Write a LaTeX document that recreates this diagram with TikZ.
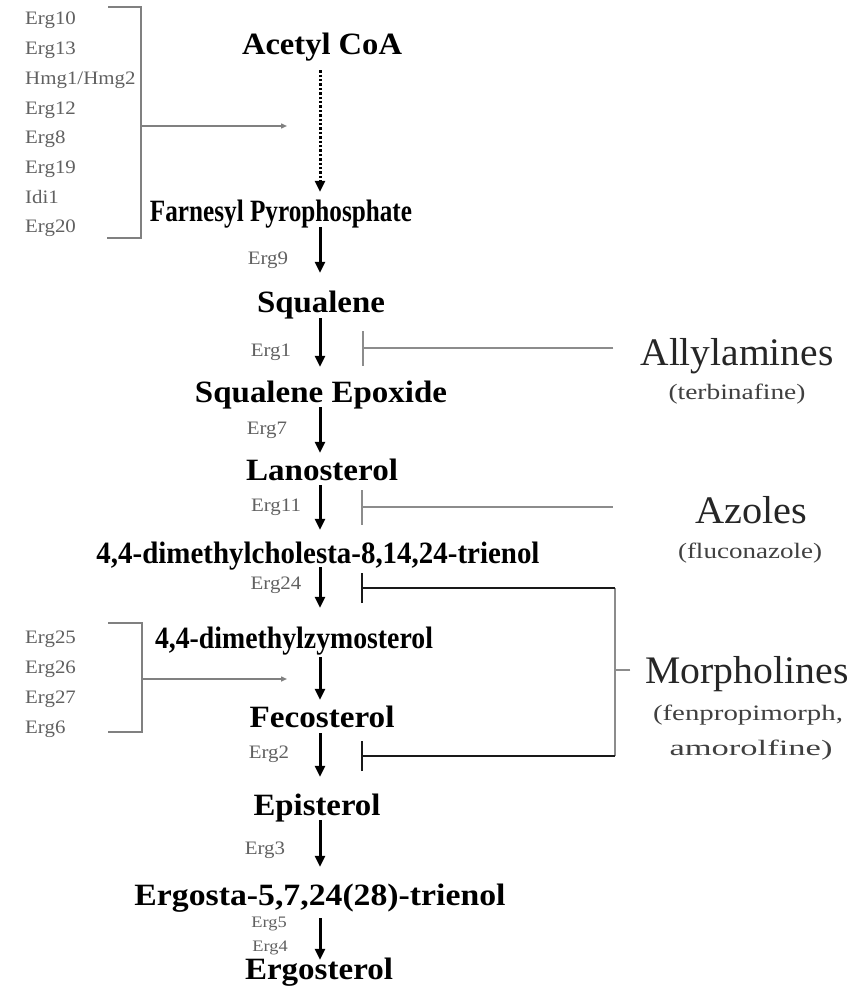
\documentclass[tikz,border=0pt]{standalone}
\usepackage{fontspec}
\setmainfont{Liberation Serif}
\usetikzlibrary{arrows.meta}
\newcommand\ML[2]{\resizebox{#1}{\height}{\fontsize{31}{31}\selectfont\bfseries #2}}
\newcommand\RL[2]{\resizebox{#1}{\height}{\fontsize{39}{39}\selectfont #2}}
\newcommand\SL[2]{\resizebox{#1}{\height}{\fontsize{22}{22}\selectfont #2}}
\newcommand\EL[1]{\scalebox{1.1}[1]{\fontsize{19}{19}\selectfont #1}}
\newcommand\ES[1]{\scalebox{1.15}[1]{\fontsize{16}{16}\selectfont #1}}
\begin{document}
\begin{tikzpicture}[x=1pt,y=-1pt,
  mainlbl/.style={anchor=base, inner sep=0pt, text height=21pt, text depth=7pt},
  lbl/.style={anchor=base, inner sep=0pt},
  erglbl/.style={anchor=base, inner sep=0pt, text=black!62},
  listlbl/.style={anchor=base west, inner sep=0pt, text=black!62},
  drug/.style={anchor=base, inner sep=0pt, text=black!85},
  sub/.style={anchor=base, inner sep=0pt, text=black!75},
  mainarrow/.style={line width=3pt, -{Triangle[length=11pt,width=10pt]}},
  dotarrow/.style={line width=3pt, dash pattern=on 2.4pt off 2pt, -{Triangle[length=11pt,width=10pt]}},
  inhgray/.style={line width=2pt, black!45, -{Bar[width=35pt]}},
  inhblack/.style={line width=2.4pt, black!90, -{Bar[width=30pt]}},
  grayline/.style={line width=2pt, black!45},
  brk/.style={line width=1.6pt, black!50},
  brkarrow/.style={line width=1.4pt, black!50, -{Triangle[length=6pt,width=5pt]}}]
\fill[white] (0,0) rectangle (858,995);
\useasboundingbox (0,0) rectangle (858,995);

% main pathway
\node[mainlbl] (acetyl) at (322,55) {\ML{160pt}{Acetyl CoA}};
\node[mainlbl] (farnesyl) at (281,222) {\ML{262pt}{Farnesyl Pyrophosphate}};
\node[mainlbl] (squalene) at (321,312) {\ML{128pt}{Squalene}};
\node[mainlbl] (sqepox) at (321,402) {\ML{252pt}{Squalene Epoxide}};
\node[mainlbl] (lano) at (322,480) {\ML{152pt}{Lanosterol}};
\node[mainlbl] (dmc) at (318,563) {\ML{443pt}{4,4-dimethylcholesta-8,14,24-trienol}};
\node[mainlbl] (dmz) at (294,648) {\ML{278pt}{4,4-dimethylzymosterol}};
\node[mainlbl] (feco) at (322,727) {\ML{145pt}{Fecosterol}};
\node[mainlbl] (epi) at (317,815) {\ML{127pt}{Episterol}};
\node[mainlbl] (ergosta) at (320,905) {\ML{371pt}{Ergosta-5,7,24(28)-trienol}};
\node[mainlbl] (ergosterol) at (319,979) {\ML{148pt}{Ergosterol}};

\coordinate (col) at (320,0);
\draw[dotarrow, shorten <=8pt, shorten >=9pt] (acetyl.south -| col) -- (farnesyl.north -| col);
\draw[mainarrow, shorten <=-2pt, shorten >=18pt] (farnesyl.south -| col) -- (squalene.north -| col);
\draw[mainarrow, shorten <=-1pt, shorten >=14pt] (squalene.south -| col) -- (sqepox.north -| col);
\draw[mainarrow, shorten <=-2pt, shorten >=6pt] (sqepox.south -| col) -- (lano.north -| col);
\draw[mainarrow, shorten <=-2pt, shorten >=12pt] (lano.south -| col) -- (dmc.north -| col);
\draw[mainarrow, shorten <=-3pt, shorten >=19pt] (dmc.south -| col) -- (dmz.north -| col);
\draw[mainarrow, shorten <=2pt, shorten >=6pt] (dmz.south -| col) -- (feco.north -| col);
\draw[mainarrow, shorten <=-1pt, shorten >=17pt] (feco.south -| col) -- (epi.north -| col);
\draw[mainarrow, shorten <=-2pt, shorten >=17pt] (epi.south -| col) -- (ergosta.north -| col);
\draw[mainarrow, shorten <=6pt, shorten >=-2pt] (ergosta.south -| col) -- (ergosterol.north -| col);

% enzyme labels
\node[erglbl] (e9) at (268,264) {\EL{Erg9}};
\node[erglbl] (e1) at (271,356) {\EL{Erg1}};
\node[erglbl] (e7) at (267,434) {\EL{Erg7}};
\node[erglbl] (e11) at (276,511) {\EL{Erg11}};
\node[erglbl] (e24) at (276,589) {\EL{Erg24}};
\node[erglbl] (e2) at (269,758) {\EL{Erg2}};
\node[erglbl] (e3) at (265,854) {\EL{Erg3}};
\node[erglbl] (e5) at (269,927) {\ES{Erg5}};
\node[erglbl] (e4) at (270,951) {\ES{Erg4}};

% left enzyme lists
\foreach \t [count=\i from 0] in {Erg10,Erg13,{Hmg1/Hmg2},Erg12,Erg8,Erg19,Idi1,Erg20}
  \node[listlbl] (la\i) at (25,{25+29.7*\i}) {\EL{\t}};
\foreach \t [count=\i from 0] in {Erg25,Erg26,Erg27,Erg6}
  \node[listlbl] (lb\i) at (25,{643+30*\i}) {\EL{\t}};

\coordinate (l1t) at (108,7);
\coordinate (l1b) at (107,238);
\coordinate (l1x) at (141,126);
\coordinate (t1) at (287,126);
\draw[brk] (l1t) -- (l1t -| l1x) -- (l1b -| l1x) -- (l1b);
\draw[brkarrow] (l1x) -- (t1);

\coordinate (l2t) at (108,623);
\coordinate (l2b) at (108,732);
\coordinate (l2x) at (142,679);
\coordinate (t2) at (287,679);
\draw[brk] (l2t) -- (l2t -| l2x) -- (l2b -| l2x) -- (l2b);
\draw[brkarrow] (l2x) -- (t2);

% drug labels
\node[drug] (allyl) at (737,365) {\RL{193pt}{Allylamines}};
\node[sub] (terb) at (737,399) {\SL{137pt}{(terbinafine)}};
\node[drug] (azoles) at (751,523) {\RL{112pt}{Azoles}};
\node[sub] (fluc) at (750,558) {\SL{144pt}{(fluconazole)}};
\node[drug] (morph) at (747,683) {\RL{203pt}{Morpholines}};
\node[sub] (fenp) at (748,720) {\SL{190pt}{(fenpropimorph,}};
\node[sub] (amor) at (751,755) {\SL{163pt}{amorolfine)}};

% inhibition
\coordinate (b1) at (362,348);
\draw[inhgray, shorten <=27pt] (allyl.west |- b1) -- (b1);
\coordinate (b2) at (361,507);
\draw[inhgray, shorten <=82pt] (azoles.west |- b2) -- (b2);

\coordinate (mj) at (615,670);
\coordinate (mt) at (615,588);
\coordinate (mb) at (615,756);
\coordinate (b3) at (361,588);
\coordinate (b4) at (361,756);
\draw[grayline, shorten <=15pt] (mj -| morph.west) -- (mj);
\draw[grayline] (mt) -- (mb);
\draw[inhblack] (mt) -- (b3);
\draw[inhblack] (mb) -- (b4);
\end{tikzpicture}
\end{document}
